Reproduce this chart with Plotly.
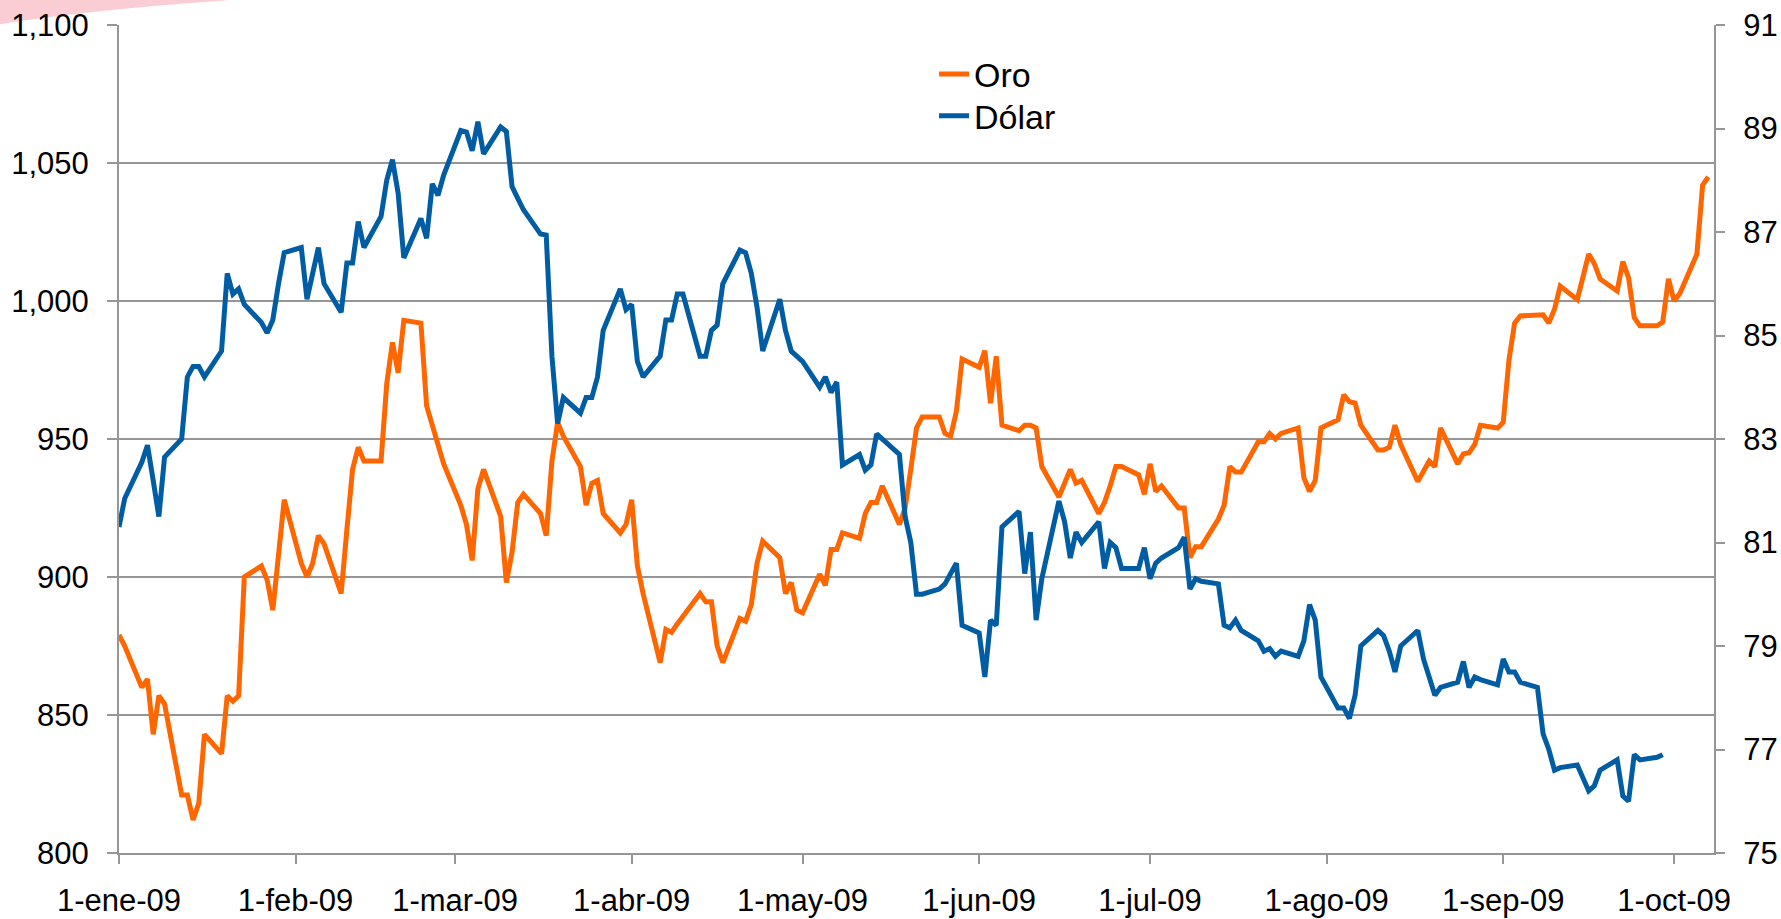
import plotly.graph_objects as go

# ---------------- Datos ----------------
oro_fechas = [
    "2009-01-01", "2009-01-02", "2009-01-05", "2009-01-06", "2009-01-07", "2009-01-08", "2009-01-09",
    "2009-01-12", "2009-01-13", "2009-01-14", "2009-01-15", "2009-01-16", "2009-01-19", "2009-01-20",
    "2009-01-21", "2009-01-22", "2009-01-23", "2009-01-26", "2009-01-27", "2009-01-28", "2009-01-29",
    "2009-01-30",
    "2009-02-02", "2009-02-03", "2009-02-04", "2009-02-05", "2009-02-06", "2009-02-09", "2009-02-10",
    "2009-02-11", "2009-02-12", "2009-02-13", "2009-02-16", "2009-02-17", "2009-02-18", "2009-02-19",
    "2009-02-20", "2009-02-23", "2009-02-24", "2009-02-25", "2009-02-26", "2009-02-27",
    "2009-03-02", "2009-03-03", "2009-03-04", "2009-03-05", "2009-03-06", "2009-03-09", "2009-03-10",
    "2009-03-11", "2009-03-12", "2009-03-13", "2009-03-16", "2009-03-17", "2009-03-18", "2009-03-19",
    "2009-03-20", "2009-03-23", "2009-03-24", "2009-03-25", "2009-03-26", "2009-03-27", "2009-03-30",
    "2009-03-31",
    "2009-04-01", "2009-04-02", "2009-04-03", "2009-04-06", "2009-04-07", "2009-04-08", "2009-04-09",
    "2009-04-13", "2009-04-14", "2009-04-15", "2009-04-16", "2009-04-17", "2009-04-20", "2009-04-21",
    "2009-04-22", "2009-04-23", "2009-04-24", "2009-04-27", "2009-04-28", "2009-04-29", "2009-04-30",
    "2009-05-01", "2009-05-04", "2009-05-05", "2009-05-06", "2009-05-07", "2009-05-08", "2009-05-11",
    "2009-05-12", "2009-05-13", "2009-05-14", "2009-05-15", "2009-05-18", "2009-05-19", "2009-05-20",
    "2009-05-21", "2009-05-22", "2009-05-25", "2009-05-26", "2009-05-27", "2009-05-28", "2009-05-29",
    "2009-06-01", "2009-06-02", "2009-06-03", "2009-06-04", "2009-06-05", "2009-06-08", "2009-06-09",
    "2009-06-10", "2009-06-11", "2009-06-12", "2009-06-15", "2009-06-16", "2009-06-17", "2009-06-18",
    "2009-06-19", "2009-06-22", "2009-06-23", "2009-06-24", "2009-06-25", "2009-06-26", "2009-06-29",
    "2009-06-30",
    "2009-07-01", "2009-07-02", "2009-07-03", "2009-07-06", "2009-07-07", "2009-07-08", "2009-07-09",
    "2009-07-10", "2009-07-13", "2009-07-14", "2009-07-15", "2009-07-16", "2009-07-17", "2009-07-20",
    "2009-07-21", "2009-07-22", "2009-07-23", "2009-07-24", "2009-07-27", "2009-07-28", "2009-07-29",
    "2009-07-30", "2009-07-31",
    "2009-08-03", "2009-08-04", "2009-08-05", "2009-08-06", "2009-08-07", "2009-08-10", "2009-08-11",
    "2009-08-12", "2009-08-13", "2009-08-14", "2009-08-17", "2009-08-18", "2009-08-19", "2009-08-20",
    "2009-08-21", "2009-08-24", "2009-08-25", "2009-08-26", "2009-08-27", "2009-08-28", "2009-08-31",
    "2009-09-01", "2009-09-02", "2009-09-03", "2009-09-04", "2009-09-08", "2009-09-09", "2009-09-10",
    "2009-09-11", "2009-09-14", "2009-09-15", "2009-09-16", "2009-09-17", "2009-09-18", "2009-09-21",
    "2009-09-22", "2009-09-23", "2009-09-24", "2009-09-25", "2009-09-28", "2009-09-29", "2009-09-30",
    "2009-10-01", "2009-10-02", "2009-10-05", "2009-10-06", "2009-10-07",
]
oro_valores = [
    879, 875, 860, 863, 843, 857, 854,
    821, 821, 812, 818, 843, 836, 857,
    855, 857, 900, 904, 899, 888, 908,
    928,
    905, 900, 905, 915, 912, 894, 917,
    939, 947, 942, 942, 970, 985, 974,
    993, 992, 962, 955, 947, 941,
    926, 919, 906, 932, 939, 922, 898,
    909, 927, 930, 923, 915, 942, 956,
    951, 940, 926, 934, 935, 923, 916,
    919,
    928, 904, 894, 869, 881, 880, 883,
    894, 891, 891, 875, 869, 885, 884,
    890, 905, 913, 907, 894, 898, 888,
    887, 901, 897, 910, 910, 916, 914,
    923, 927, 927, 933, 919, 925, 939,
    954, 958, 958, 952, 951, 960, 979,
    976, 982, 963, 980, 955, 953, 955,
    955, 954, 940, 929, 934, 939, 934,
    935, 923, 927, 933, 940, 940, 937,
    930,
    941, 931, 933, 925, 925, 907, 911,
    911, 921, 926, 940, 938, 938, 949,
    949, 952, 950, 952, 954, 936, 931,
    935, 954,
    957, 966, 963.5, 963, 955, 946, 946,
    947, 955, 948, 934.6, 938, 942, 940,
    954, 941, 944.6, 945, 948, 955, 954,
    956, 978.6, 992, 994.6, 995, 992, 997,
    1005.4, 1000.5, 1009, 1017, 1013.5, 1008, 1003.6,
    1014.3, 1008.4, 994, 991, 991, 992.4, 1008,
    1000, 1002.7, 1017, 1042, 1045,
]

dolar_fechas = [
    "2009-01-01", "2009-01-02", "2009-01-05", "2009-01-06", "2009-01-07", "2009-01-08", "2009-01-09",
    "2009-01-12", "2009-01-13", "2009-01-14", "2009-01-15", "2009-01-16", "2009-01-19", "2009-01-20",
    "2009-01-21", "2009-01-22", "2009-01-23", "2009-01-26", "2009-01-27", "2009-01-28", "2009-01-29",
    "2009-01-30",
    "2009-02-02", "2009-02-03", "2009-02-04", "2009-02-05", "2009-02-06", "2009-02-09", "2009-02-10",
    "2009-02-11", "2009-02-12", "2009-02-13", "2009-02-16", "2009-02-17", "2009-02-18", "2009-02-19",
    "2009-02-20", "2009-02-23", "2009-02-24", "2009-02-25", "2009-02-26", "2009-02-27",
    "2009-03-02", "2009-03-03", "2009-03-04", "2009-03-05", "2009-03-06", "2009-03-09", "2009-03-10",
    "2009-03-11", "2009-03-12", "2009-03-13", "2009-03-16", "2009-03-17", "2009-03-18", "2009-03-19",
    "2009-03-20", "2009-03-23", "2009-03-24", "2009-03-25", "2009-03-26", "2009-03-27", "2009-03-30",
    "2009-03-31",
    "2009-04-01", "2009-04-02", "2009-04-03", "2009-04-06", "2009-04-07", "2009-04-08", "2009-04-09",
    "2009-04-10", "2009-04-13", "2009-04-14", "2009-04-15", "2009-04-16", "2009-04-17", "2009-04-20",
    "2009-04-21", "2009-04-22", "2009-04-23", "2009-04-24", "2009-04-27", "2009-04-28", "2009-04-29",
    "2009-04-30",
    "2009-05-01", "2009-05-04", "2009-05-05", "2009-05-06", "2009-05-07", "2009-05-08", "2009-05-11",
    "2009-05-12", "2009-05-13", "2009-05-14", "2009-05-15", "2009-05-18", "2009-05-19", "2009-05-20",
    "2009-05-21", "2009-05-22", "2009-05-25", "2009-05-26", "2009-05-27", "2009-05-28", "2009-05-29",
    "2009-06-01", "2009-06-02", "2009-06-03", "2009-06-04", "2009-06-05", "2009-06-08", "2009-06-09",
    "2009-06-10", "2009-06-11", "2009-06-12", "2009-06-15", "2009-06-16", "2009-06-17", "2009-06-18",
    "2009-06-19", "2009-06-22", "2009-06-23", "2009-06-24", "2009-06-25", "2009-06-26", "2009-06-29",
    "2009-06-30",
    "2009-07-01", "2009-07-02", "2009-07-03", "2009-07-06", "2009-07-07", "2009-07-08", "2009-07-09",
    "2009-07-10", "2009-07-13", "2009-07-14", "2009-07-15", "2009-07-16", "2009-07-17", "2009-07-20",
    "2009-07-21", "2009-07-22", "2009-07-23", "2009-07-24", "2009-07-27", "2009-07-28", "2009-07-29",
    "2009-07-30", "2009-07-31",
    "2009-08-03", "2009-08-04", "2009-08-05", "2009-08-06", "2009-08-07", "2009-08-10", "2009-08-11",
    "2009-08-12", "2009-08-13", "2009-08-14", "2009-08-17", "2009-08-18", "2009-08-19", "2009-08-20",
    "2009-08-21", "2009-08-24", "2009-08-25", "2009-08-26", "2009-08-27", "2009-08-28", "2009-08-31",
    "2009-09-01", "2009-09-02", "2009-09-03", "2009-09-04", "2009-09-07", "2009-09-08", "2009-09-09",
    "2009-09-10", "2009-09-11", "2009-09-14", "2009-09-15", "2009-09-16", "2009-09-17", "2009-09-18",
    "2009-09-21", "2009-09-22", "2009-09-23", "2009-09-24", "2009-09-25", "2009-09-28", "2009-09-29",
]
dolar_valores = [
    81.3, 81.85, 82.55, 82.88, 82.2, 81.5, 82.65,
    83.0, 84.2, 84.4, 84.4, 84.2, 84.7, 86.2,
    85.8, 85.9, 85.6, 85.25, 85.05, 85.3, 86.0,
    86.6,
    86.7, 85.7, 86.2, 86.7, 86.0, 85.45, 86.4,
    86.4, 87.2, 86.7, 87.3, 88.0, 88.4, 87.75,
    86.5, 87.26, 86.88, 87.93, 87.71, 88.1,
    88.96, 88.93, 88.57, 89.13, 88.51, 89.03, 88.94,
    87.88, 87.65, 87.43, 86.96, 86.94, 84.6, 83.3,
    83.8, 83.5, 83.8, 83.8, 84.2, 85.1, 85.9,
    85.5,
    85.6, 84.5, 84.2, 84.6, 85.3, 85.3, 85.8,
    85.8, 84.6, 84.6, 85.1, 85.2, 86.0, 86.65,
    86.6, 86.2, 85.55, 84.7, 85.7, 85.1, 84.7,
    84.6,
    84.5, 84.0, 84.2, 83.9, 84.1, 82.5, 82.7,
    82.4, 82.5, 83.1, 83.0, 82.7, 81.5, 81.0,
    80.0, 80.0, 80.1, 80.2, 80.4, 80.6, 79.4,
    79.25, 78.4, 79.5, 79.4, 81.3, 81.6, 80.4,
    81.2, 79.5, 80.3, 81.8, 81.4, 80.7, 81.2,
    81.0, 81.4, 80.5, 81.0, 80.9, 80.5, 80.5,
    80.9,
    80.3, 80.6, 80.7, 80.9, 81.1, 80.1, 80.3,
    80.25, 80.2, 79.4, 79.35, 79.5, 79.3, 79.1,
    78.9, 78.95, 78.8, 78.9, 78.8, 79.1, 79.8,
    79.5, 78.4,
    77.8, 77.8, 77.6, 78.05, 79.0, 79.3, 79.2,
    78.9, 78.5, 79.0, 79.3, 78.75, 78.4, 78.05,
    78.2, 78.3, 78.7, 78.2, 78.4, 78.35, 78.25,
    78.75, 78.5, 78.5, 78.3, 78.2, 77.3, 77.0,
    76.6, 76.65, 76.7, 76.45, 76.2, 76.3, 76.6,
    76.8, 76.1, 76.0, 76.9, 76.8, 76.85, 76.9,
]

meses_ticks = ["2009-01-01", "2009-02-01", "2009-03-01", "2009-04-01", "2009-05-01",
               "2009-06-01", "2009-07-01", "2009-08-01", "2009-09-01", "2009-10-01"]
meses_etiquetas = ["1-ene-09", "1-feb-09", "1-mar-09", "1-abr-09", "1-may-09",
                   "1-jun-09", "1-jul-09", "1-ago-09", "1-sep-09", "1-oct-09"]

# ---------------- Figura ----------------
GRIS = "#969696"
fig = go.Figure()
fig.add_trace(go.Scatter(x=oro_fechas, y=oro_valores, name="Oro", mode="lines",
                         line=dict(color="#FF6600", width=5), yaxis="y", legend="legend"))
fig.add_trace(go.Scatter(x=dolar_fechas, y=dolar_valores, name="Dólar", mode="lines",
                         line=dict(color="#005DA4", width=5), yaxis="y2", legend="legend2"))

# decorative pink swoosh from the slide background (top-left corner)
fig.add_shape(type="path", xref="paper", yref="paper", layer="below",
              path="M -0.0746,1.0302 L 0.0700,1.0302 Q -0.02,1.018 -0.0746,1.0010 Z",
              fillcolor="rgba(240,110,130,0.35)", line=dict(width=0))

leg_common = dict(xanchor="left", yanchor="top", font=dict(size=34),
                  bgcolor="rgba(0,0,0,0)")

fig.update_layout(
    width=1781, height=919,
    margin=dict(l=119, r=67, t=25, b=66, autoexpand=False),
    paper_bgcolor="white", plot_bgcolor="white",
    font=dict(family="Liberation Sans, Arial, sans-serif", size=31, color="black"),
    showlegend=True,
    legend=dict(x=0.511, y=0.9754, **leg_common),
    legend2=dict(x=0.511, y=0.9248, **leg_common),
    xaxis=dict(type="date", range=["2009-01-01", "2009-10-08"],
               tickmode="array", tickvals=meses_ticks, ticktext=meses_etiquetas,
               ticks="outside", ticklen=9, tickwidth=2, tickcolor=GRIS,
               showline=True, linecolor=GRIS, linewidth=2, automargin=False,
               showgrid=False, zeroline=False, ticklabelstandoff=10),
    yaxis=dict(range=[800, 1100], tick0=800, dtick=50, tickformat=",",
               ticks="outside", ticklen=10, tickwidth=2, tickcolor=GRIS,
               showline=True, linecolor=GRIS, linewidth=2, automargin=False,
               showgrid=True, gridcolor=GRIS, gridwidth=2, zeroline=False,
               ticklabelstandoff=12),
    yaxis2=dict(range=[75, 91], tick0=75, dtick=2, overlaying="y", side="right",
                ticks="outside", ticklen=9, tickwidth=2, tickcolor=GRIS,
                showline=True, linecolor=GRIS, linewidth=2, automargin=False,
                showgrid=False, zeroline=False, ticklabelstandoff=12),
)

fig.write_html("out.html", config={"displayModeBar": False},
               post_script="document.body.style.margin='0';document.body.style.overflow='hidden';")
